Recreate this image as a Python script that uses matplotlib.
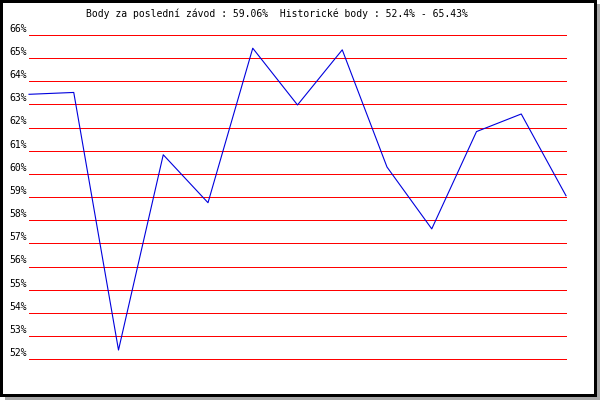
import matplotlib
matplotlib.use("Agg")
import matplotlib.pyplot as plt
from matplotlib.patches import Rectangle
import matplotlib.transforms as mtransforms

# data
races = list(range(13))
points = [63.44, 63.52, 52.40, 60.83, 58.76, 65.43, 62.98, 65.36, 60.30, 57.63, 61.83, 62.59, 59.06]
y_ticks = list(range(52, 67))
y_labels = [f"{v}%" for v in y_ticks]
title = "Body za poslední závod : 59.06%  Historické body : 52.4% - 65.43%"

W, H = 600, 400
fig = plt.figure(figsize=(6, 4), dpi=100)
fig.patch.set_facecolor("white")


def frect(x0, y0, x1, y1, **kw):
    # rectangle in pixel coords (origin top-left), drawn behind the axes
    fig.patches.append(Rectangle((x0 / W, 1 - y1 / H), (x1 - x0) / W, (y1 - y0) / H,
                                 transform=fig.transFigure, figure=fig, zorder=-10, **kw))


# frame with grey shadow
frect(5, 4, 600, 400, facecolor="#a8a8a8", edgecolor="none")
frect(0, 0, 597, 396.5, facecolor="black", edgecolor="none")
frect(3, 3, 594, 393.5, facecolor="white", edgecolor="none")

# plot area
left, right, top, bottom = 29, 566, 35, 359.3
ax = fig.add_axes([left / W, 1 - bottom / H, (right - left) / W, (bottom - top) / H])
ax.set_facecolor("none")
ax.set_xlim(0, 12)
ax.set_ylim(52, 66)
for s in ax.spines.values():
    s.set_visible(False)
ax.set_xticks([])
ax.set_yticks([])

for v in y_ticks:
    ax.axhline(v, color="#ff0000", lw=0.72, zorder=1, clip_on=False, antialiased=False)

trans = mtransforms.blended_transform_factory(fig.transFigure, ax.transData)
for v, lab in zip(y_ticks, y_labels):
    ax.text(26.5 / W, v + 0.27, lab, transform=trans, ha="right", va="center",
            family="DejaVu Sans Mono", fontsize=7, color="black")

ax.plot(races, points, color="#0000dd", lw=0.8, zorder=3, clip_on=False)

fig.text(277 / W, 1 - 13.5 / H, title, ha="center", va="center",
         family="DejaVu Sans Mono", fontsize=7, color="black")

fig.savefig("out.png", dpi=100)
